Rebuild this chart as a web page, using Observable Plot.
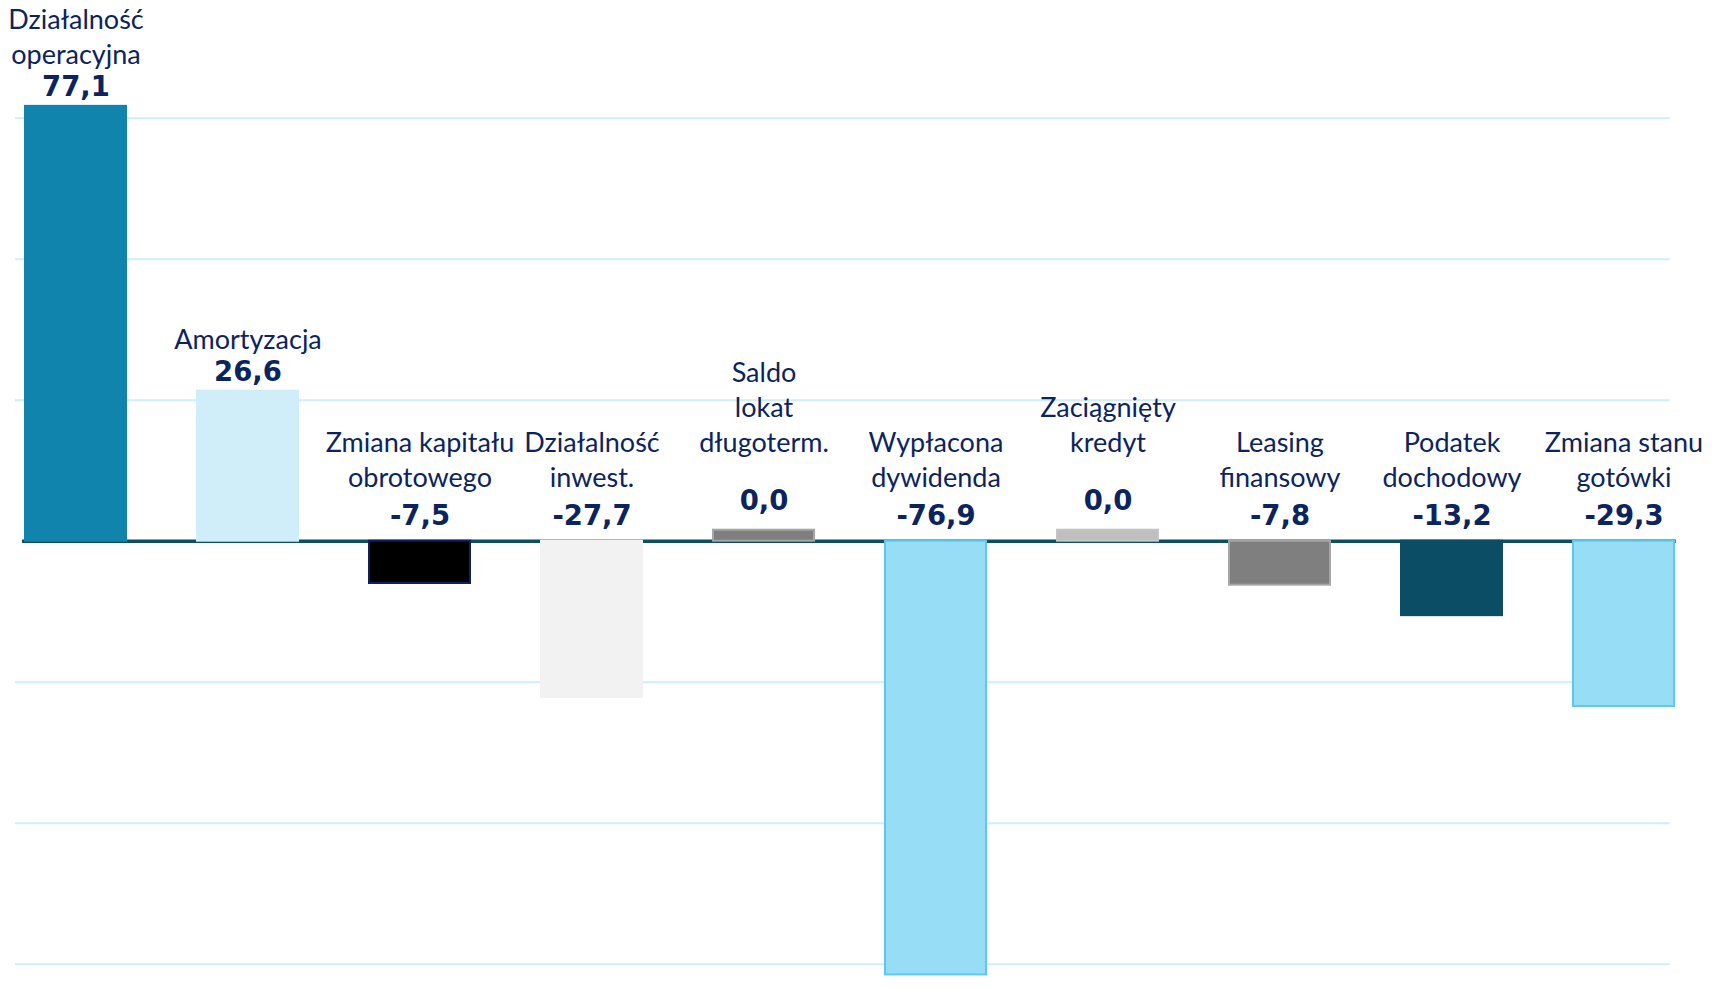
<!DOCTYPE html>
<html>
<head>
<meta charset="utf-8">
<script src="https://cdn.jsdelivr.net/npm/d3@7"></script>
<script src="https://cdn.jsdelivr.net/npm/@observablehq/plot@0.6"></script>
<style>
  html, body { margin: 0; padding: 0; background: #ffffff; }
  #chart svg { display: block; }
</style>
</head>
<body>
<div id="chart"></div>
<script>
// ---- data ----
const categories = [
  "Działalność\noperacyjna",
  "Amortyzacja",
  "Zmiana kapitału\nobrotowego",
  "Działalność\ninwest.",
  "Saldo\nlokat\ndługoterm.",
  "Wypłacona\ndywidenda",
  "Zaciągnięty\nkredyt",
  "Leasing\nfinansowy",
  "Podatek\ndochodowy",
  "Zmiana stanu\ngotówki"
];
const values = [77.1, 26.6, -7.5, -27.7, 0.0, -76.9, 0.0, -7.8, -13.2, -29.3];
const gridTicks = [-75, -50, -25, 25, 50, 75];

// ---- styles ----
const fills   = ["#1184ae", "#d0eef9", "#000000", "#f2f2f2", "#7f7f7f", "#97ddf5", "#bfbfbf", "#7f7f7f", "#0a4d64", "#97ddf5"];
const strokes = ["#1184ae", "#d0eef9", "#0d1f5e", "#f2f2f2", "#a6a6a6", "#5bc8ee", "#c4c4c4", "#a6a6a6", "#0a4d64", "#5bc8ee"];
const navy = "#0b2460";

const fmt = d3.formatLocale({decimal: ",", thousands: " ", grouping: [3], currency: ["", ""], minus: "-"}).format(".1f");

const data = categories.map((c, i) => ({category: c, value: values[i], fill: fills[i], stroke: strokes[i]}));
const pos = data.filter(d => d.value > 0);
const neg = data.filter(d => d.value < 0);
const zero = data.filter(d => d.value === 0);

function labels(subset, dyValue, dyCat) {
  return [
    Plot.text(subset, {
      x: "category", y: d => Math.max(d.value, 0), text: d => fmt(d.value),
      dy: dyValue, lineAnchor: "bottom",
      fontFamily: "DejaVu Sans", fontWeight: "bold", fontSize: 27.5, fill: navy
    }),
    Plot.text(subset, {
      x: "category", y: d => Math.max(d.value, 0), text: "category",
      dy: dyCat, lineAnchor: "bottom", lineHeight: 1.3,
      fontFamily: "Lato, 'Open Sans', sans-serif", fontSize: 27, fill: navy
    })
  ];
}

const W = 1729, H = 990, zeroY = 540.7, pxPerUnit = 5.64;
const chart = Plot.plot({
  width: W,
  height: H,
  marginLeft: 23,
  marginRight: 53.3,
  marginTop: 0,
  marginBottom: 0,
  style: {background: "#ffffff"},
  x: {type: "band", domain: categories, paddingInner: 0.414, paddingOuter: 0, axis: null},
  y: {domain: [-(H - zeroY) / pxPerUnit, zeroY / pxPerUnit], axis: null},
  color: {type: "identity"},
  marks: [
    Plot.ruleY(gridTicks, {stroke: "#cfeefa", strokeWidth: 2, insetLeft: -8, insetRight: 6}),
    Plot.ruleY([0], {stroke: "#0c4e64", strokeWidth: 3.4, insetLeft: -1}),
    Plot.barY(data.filter(d => d.value !== 0), {x: "category", y: "value", fill: "fill", stroke: "stroke", strokeWidth: 2}),
    Plot.barY(zero, {x: "category", y: "value", fill: "fill", stroke: "stroke", strokeWidth: 2, insetTop: -11}),
    ...labels(pos, -10, -42),
    ...labels(neg, -16, -54),
    ...labels(zero, -31, -89)
  ]
});
document.getElementById("chart").appendChild(chart);
</script>
</body>
</html>
